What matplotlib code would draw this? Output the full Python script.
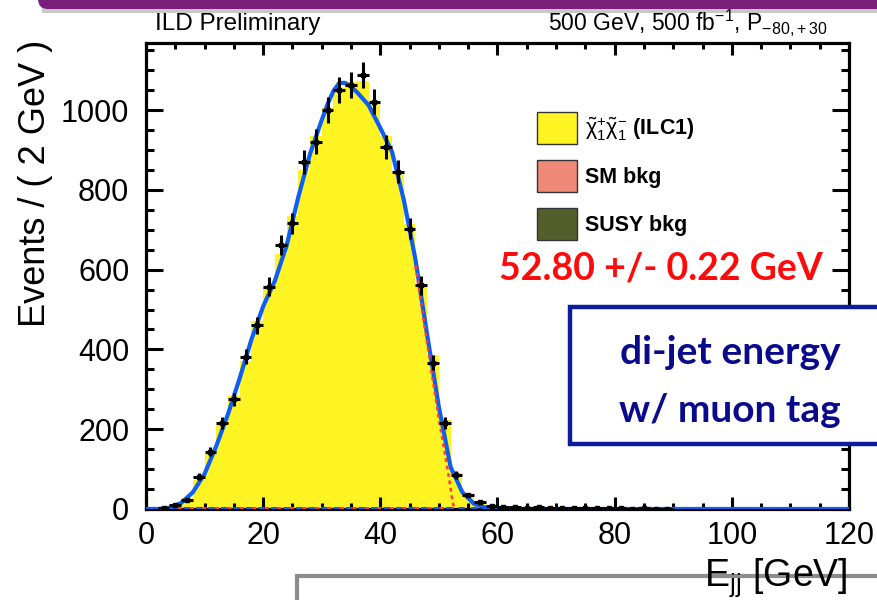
import numpy as np
import matplotlib.pyplot as plt
from matplotlib.patches import Rectangle, FancyBboxPatch, Patch
from matplotlib.ticker import MultipleLocator
from matplotlib.transforms import IdentityTransform

plt.rcParams['font.family'] = ['Liberation Sans', 'DejaVu Sans']
plt.rcParams['mathtext.fontset'] = 'custom'
plt.rcParams['mathtext.rm'] = 'Liberation Sans'
plt.rcParams['mathtext.it'] = 'Liberation Sans'
plt.rcParams['mathtext.bf'] = 'Liberation Sans:bold'

# bins de 2 GeV entre 0 e 120
bin_edges = np.arange(0, 122, 2)
bin_centers = bin_edges[:-1] + 1

# pseudo-dados (pontos pretos)
data_counts = [0, 2, 10, 23, 81, 144, 215, 275, 382, 461,
               557, 662, 716, 870, 921, 1000, 1050, 1063, 1088, 1021,
               908, 845, 703, 561, 367, 216, 85, 35, 18, 8,
               5, 4, 3, 4, 3, 2, 3, 2, 2, 3,
               2, 1, 2, 1, 1, 0, 0, 0, 0, 0,
               0, 0, 0, 0, 0, 0, 0, 0, 0, 0]

# histogramas empilhados
susy_bkg = [0, 0, 0, 0, 0, 0, 1, 0, 1, 0,
            1, 0, 1, 0, 1, 0, 1, 0, 1, 0,
            1, 0, 1, 0, 1, 0, 0, 0, 0, 0,
            0, 0, 0, 0, 0, 0, 0, 0, 0, 0,
            0, 0, 0, 0, 0, 0, 0, 0, 0, 0,
            0, 0, 0, 0, 0, 0, 0, 0, 0, 0]
sm_bkg = [0, 0, 0, 1, 1, 1, 1, 1, 1, 1,
          1, 1, 1, 1, 1, 1, 1, 1, 1, 1,
          1, 1, 1, 1, 1, 1, 1, 1, 1, 1,
          1, 1, 1, 0, 1, 0, 1, 0, 1, 0,
          0, 0, 0, 0, 0, 0, 0, 0, 0, 0,
          0, 0, 0, 0, 0, 0, 0, 0, 0, 0]
signal = [0, 2, 8, 26, 71, 136, 209, 283, 370, 470,
          554, 638, 732, 848, 932, 1004, 1053, 1068, 1070, 1019,
          933, 838, 713, 558, 383, 223, 90, 31, 11, 4,
          2, 1, 1, 1, 0, 1, 0, 1, 0, 1,
          1, 0, 1, 0, 0, 0, 0, 0, 0, 0,
          0, 0, 0, 0, 0, 0, 0, 0, 0, 0]

# curva do ajuste (azul)
fit_e = [0, 2, 4, 6, 8, 10, 12, 14, 16, 18, 20, 22, 24, 26, 28, 30, 31, 32,
         33, 34, 35, 36, 38, 40, 42, 44, 46, 48, 50, 52, 54, 56, 58, 60, 62, 120]
fit_n = [0, 0, 3, 15, 42, 88, 158, 238, 328, 425, 508, 572, 660, 782, 890, 975, 1015, 1048,
         1068, 1068, 1058, 1045, 1012, 955, 895, 775, 625, 436, 255, 105, 42, 13, 3, 1, 0, 0]

# componente do endpoint (vermelho pontilhado)
ep_e = [46, 48, 49, 50, 51, 51.7, 52.2, 52.6]
ep_n = [610, 415, 320, 225, 140, 80, 30, 0]

fig = plt.figure(figsize=(8.77, 6.0), dpi=100)
ax = fig.add_axes([146 / 877, 1 - 509 / 600, (849 - 146) / 877, (509 - 43) / 600])

# pilha: SUSY bkg, SM bkg, sinal
b1 = np.array(susy_bkg)
b2 = b1 + np.array(sm_bkg)
b3 = b2 + np.array(signal)
ax.stairs(b3, bin_edges, baseline=b2, fill=True, color='#FFF423', lw=0)
ax.stairs(b2, bin_edges, baseline=b1, fill=True, color='#EE8877', lw=0)
ax.stairs(b1, bin_edges, baseline=0, fill=True, color='#535F2A', lw=0)

# componentes perto do zero
ax.plot([0, 120], [2, 2], color='#1060F0', lw=1.5, ls=(0, (3, 3)), zorder=3)
ax.plot([0, 52.6], [2, 2], color='#FF3B3B', lw=1.5, ls=(3, (2, 4)), zorder=3)

ax.plot(fit_e, fit_n, color='#0D5EF2', lw=3.0, zorder=4, solid_capstyle='round')
ax.plot(ep_e, ep_n, color='#FF3B3B', lw=1.8, ls=(0, (1.5, 1.5)), zorder=5)

d = np.array(data_counts)
m = d > 0
ax.errorbar(bin_centers[m], d[m], xerr=1, yerr=np.sqrt(d[m]), fmt='s', ms=3,
            color='black', elinewidth=2.2, capsize=0, zorder=6)

ax.set_xlim(0, 120)
ax.set_ylim(0, 1168)
ax.xaxis.set_major_locator(MultipleLocator(20))
ax.xaxis.set_minor_locator(MultipleLocator(5))
ax.yaxis.set_major_locator(MultipleLocator(200))
ax.yaxis.set_minor_locator(MultipleLocator(50))
for s in ax.spines.values():
    s.set_linewidth(2.3)
ax.tick_params(which='both', direction='in', top=True, right=True, width=2.2)
ax.tick_params(axis='x', which='major', length=8.5, labelsize=22, pad=9)
ax.tick_params(axis='x', which='minor', length=4.5)
ax.tick_params(axis='y', which='major', length=12, labelsize=22, pad=12)
ax.tick_params(axis='y', which='minor', length=6)

fig.text(0.041, 1 - 40 / 600, 'Events / ( 2 GeV )', rotation=90, ha='center',
         va='top', fontsize=26)
fig.text(848 / 877, 1 - 586 / 600, r'E$_{\mathregular{jj}}$ [GeV]', ha='right',
         va='baseline', fontsize=27, zorder=10)

# cabeçalho
fig.text(155 / 877, 1 - 30 / 600, 'ILD Preliminary', fontsize=17.5, va='baseline')
fig.text(548 / 877, 1 - 30 / 600, r'500 GeV, 500 fb$^{-1}$, P$_{\mathregular{-80,\!+30}}$',
         fontsize=16.5, va='baseline')

# legenda
handles = [Patch(facecolor='#FFF423', edgecolor='#333333', lw=1),
           Patch(facecolor='#EE8877', edgecolor='#333333', lw=1),
           Patch(facecolor='#535F2A', edgecolor='#333333', lw=1)]
labels = [r'$\tilde{\chi}^{+}_{1}\tilde{\chi}^{-}_{1}$ (ILC1)', 'SM bkg', 'SUSY bkg']
ax.legend(handles, labels, loc='upper left', bbox_to_anchor=(537 / 877, 1 - 112 / 600),
          bbox_transform=fig.transFigure, frameon=False, borderpad=0, borderaxespad=0,
          handlelength=1.85, handleheight=1.9, labelspacing=0.75, handletextpad=0.4,
          prop={'weight': 'bold', 'size': 15.5})

fig.text(661 / 877, 1 - 268 / 600, '52.80 +/- 0.22 GeV', ha='center', va='center',
         color='#FF0A0A', fontsize=27, fontweight='bold', family=['Lato', 'DejaVu Sans'])

# caixas e barra do slide (coordenadas em pixeis)
px = IdentityTransform()
fig.patches.append(Rectangle((570, 600 - 444), 340, 137, transform=px,
                             facecolor='white', edgecolor='#0C1C9C', lw=3.2, zorder=8))
fig.text(730 / 877, 1 - 352 / 600, 'di-jet energy', ha='center', va='center',
         color='#0A0A8C', fontsize=28, fontweight='bold', family=['Lato', 'DejaVu Sans'],
         zorder=9)
fig.text(730 / 877, 1 - 410 / 600, 'w/ muon tag', ha='center', va='center',
         color='#0A0A8C', fontsize=28, fontweight='bold', family=['Lato', 'DejaVu Sans'],
         zorder=9)

fig.patches.append(Rectangle((297, -30), 620, 54, transform=px,
                             facecolor='white', edgecolor='#8C8C8C', lw=3.0, zorder=1))

fig.patches.append(Rectangle((42, 600 - 13), 860, 6, transform=px,
                             facecolor='#C8C8C8', edgecolor='none', zorder=1))
fig.patches.append(FancyBboxPatch((38, 600 - 9), 900, 30, transform=px,
                                  boxstyle='round,pad=0,rounding_size=10',
                                  facecolor='#7A1E7C', edgecolor='none', zorder=2))

fig.savefig('out.png', dpi=100)
